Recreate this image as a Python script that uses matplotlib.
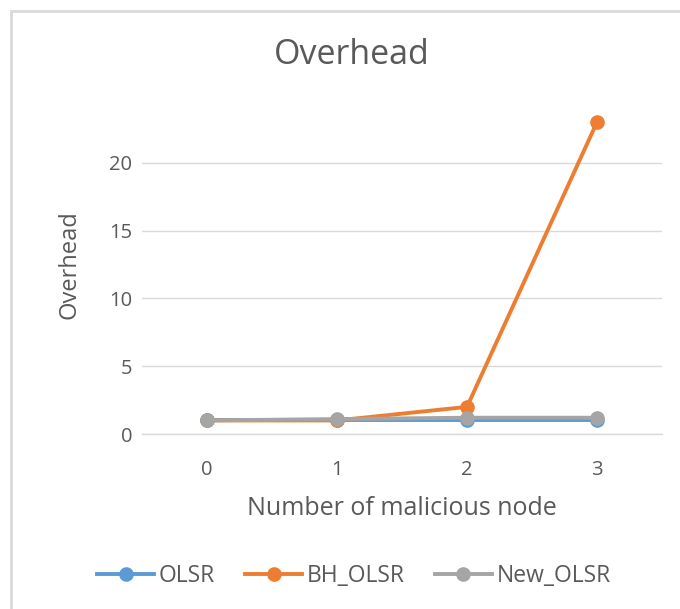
import matplotlib
matplotlib.use("Agg")
import matplotlib.pyplot as plt
from matplotlib.patches import Rectangle
from matplotlib.lines import Line2D

plt.rcParams['font.family'] = ['Open Sans', 'DejaVu Sans']

categories = [0, 1, 2, 3]
olsr = [1.0, 1.0, 1.0, 1.0]
bh_olsr = [1.0, 1.0, 2.0, 23.0]
new_olsr = [1.0, 1.1, 1.2, 1.2]
y_ticks = [0, 5, 10, 15, 20]

series = [
    ("OLSR", olsr, "#5B9BD5"),
    ("BH_OLSR", bh_olsr, "#ED7D31"),
    ("New_OLSR", new_olsr, "#A5A5A5"),
]

text_color = "#595959"
grid_color = "#D9D9D9"

fig = plt.figure(figsize=(6.8, 6.09), dpi=100)

# chart frame
fig.patches.append(Rectangle((11 / 680, -0.05), 1.0, 1 - 11 / 609 + 0.05,
                             transform=fig.transFigure, fill=False,
                             edgecolor="#D9D9D9", linewidth=2.0, zorder=0))

ax = fig.add_axes([142 / 680, 1 - 434 / 609, 520 / 680, (434 - 95) / 609])

x = list(range(len(categories)))
for name, vals, color in series:
    ax.plot(x, vals, color=color, linewidth=2.8, marker="o", markersize=9.5,
            label=name, solid_capstyle="round", zorder=3)

ax.set_xlim(-0.5, len(categories) - 0.5)
ax.set_ylim(0, 25)
ax.set_xticks(x)
ax.set_xticklabels([str(c) for c in categories])
ax.set_yticks(y_ticks)
ax.grid(axis="y", color=grid_color, linewidth=1.0)
ax.set_axisbelow(True)
for s in ["top", "right", "left"]:
    ax.spines[s].set_visible(False)
ax.spines["bottom"].set_color(grid_color)
ax.spines["bottom"].set_linewidth(1.0)
ax.tick_params(axis="both", length=0, labelsize=14.5, colors=text_color)
ax.tick_params(axis="y", pad=7)
ax.tick_params(axis="x", pad=19)

ax.set_xlabel("Number of malicious node", fontsize=18, color=text_color, labelpad=11)
ax.set_ylabel("Overhead", fontsize=17, color=text_color, labelpad=20)

fig.text(352 / 680, 1 - 55 / 609, "Overhead", ha="center", va="center",
         fontsize=24.5, color=text_color)

handles = [Line2D([0], [0], color=c, linewidth=2.8, marker="o", markersize=9.5)
           for _, _, c in series]
fig.legend(handles, [n for n, _, _ in series], loc="center",
           bbox_to_anchor=(354 / 680, 1 - 576 / 609), ncol=3, frameon=False,
           fontsize=16.5, labelcolor=text_color, handlelength=2.5,
           handletextpad=0.2, columnspacing=1.3)

fig.savefig("out.png", dpi=100)
